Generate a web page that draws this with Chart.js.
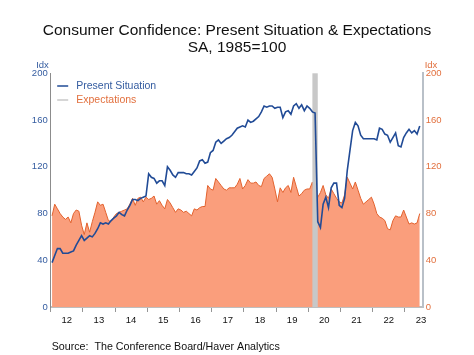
<!DOCTYPE html>
<html><head><meta charset="utf-8">
<script src="https://cdn.jsdelivr.net/npm/chart.js@4.4.0/dist/chart.umd.min.js"></script>
<style>html,body{margin:0;padding:0;background:#fff}canvas{display:block}</style>
</head><body>
<canvas id="c" width="474" height="355"></canvas>
<script>
const titleLines = ["Consumer Confidence: Present Situation & Expectations", "SA, 1985=100"];
const sourceText = "Source:  The Conference Board/Haver Analytics";
const axisUnit = "Idx";
const yearLabels = ["12","13","14","15","16","17","18","19","20","21","22","23"];
const yTicks = [0, 40, 80, 120, 160, 200];
const firstMonth = "2012-01";
const seriesNames = ["Present Situation", "Expectations"];
const recession = ["2020-02", "2020-04"];

const presentSituation = [
  38, 44, 50, 50, 46, 46, 46, 47, 48, 53, 57, 61,
  57, 59, 61, 60, 63, 67, 72, 71, 72, 71, 74, 76,
  78, 81, 79, 78, 83, 87, 92, 92, 91, 93, 94, 95,
  114, 111, 110, 106, 108, 108, 104, 120, 117, 113, 111, 115,
  115, 115, 114, 114, 113, 116, 119, 125, 126, 123, 124, 132,
  134, 141, 143, 140, 142, 144, 145, 147, 150, 153, 154, 155,
  154, 160, 158, 159, 161, 163, 167, 172, 171, 172, 172, 170,
  171, 171, 162, 167, 168, 165, 172, 174, 170, 173, 168, 172,
  170, 167, 166, 73, 68, 88, 94, 85, 102, 106, 106, 87,
  85, 93, 117, 134, 151, 158, 155, 147, 144, 144, 144, 144,
  144, 143, 153, 152, 148, 147, 141, 145, 149, 138, 137, 145,
  149, 152, 149, 151, 148, 155
];
const expectations = [
  78, 88, 84, 80, 77, 75, 77, 72, 80, 83, 82, 70,
  62, 72, 64, 73, 81, 90, 87, 88, 81, 74, 73, 77,
  80, 81, 82, 83, 84, 88, 93, 87, 93, 94, 90, 94,
  92, 93, 95, 88, 91, 87, 84, 92, 89, 85, 81, 84,
  83, 81, 82, 80, 78, 84, 83, 85, 86, 86, 104, 101,
  100, 110, 107, 104, 101, 100, 102, 102, 102, 105, 110, 101,
  104, 109, 106, 106, 107, 104, 103, 110, 112, 114, 111, 101,
  90, 102, 98, 102, 104, 98, 111, 103, 95, 97, 100, 101,
  101, 107, 88, 94, 98, 104, 96, 93, 101, 97, 93, 90,
  89, 96, 111, 106, 101, 107, 100, 93, 88, 90, 92, 94,
  88, 80, 77, 76, 74, 67, 66, 74, 78, 77, 77, 83,
  77, 71, 72, 71, 72, 80
];

function monthIndex(s) {
  const [y, m] = s.split("-").map(Number);
  const [y0, m0] = firstMonth.split("-").map(Number);
  return (y - y0) * 12 + (m - m0);
}
const toPoints = arr => arr.map((v, i) => ({ x: i + 0.5, y: v }));

const FONT = "'Liberation Sans', Arial, Helvetica, sans-serif";
const BLUE = "rgb(33,75,150)";
const BLUE_TXT = "rgb(52,92,160)";
const ORANGE_LINE = "rgb(226,98,46)";
const ORANGE_FILL = "rgb(250,158,124)";
const ORANGE_TXT = "rgb(226,112,62)";

const decor = {
  id: "decor",
  afterDatasetDraw(chart, args) {
    if (args.index !== 1) return;
    const x = chart.scales.x, a = chart.chartArea, ctx = chart.ctx;
    const x0 = x.getPixelForValue(monthIndex(recession[0]) + 0.5);
    const x1 = x.getPixelForValue(monthIndex(recession[1]) + 0.5);
    ctx.save();
    ctx.fillStyle = "rgb(200,200,200)";
    ctx.fillRect(x0, a.top, x1 - x0, a.bottom - a.top);
    ctx.restore();
  },
  afterDraw(chart) {
    const ctx = chart.ctx, a = chart.chartArea;
    ctx.save();
    ctx.textBaseline = "middle";
    ctx.fillStyle = "#111";
    ctx.textAlign = "center";
    ctx.font = "15.5px " + FONT;
    ctx.fillText(titleLines[0], 237, 31);
    ctx.fillText(titleLines[1], 237, 48);
    ctx.font = "9.5px " + FONT;
    ctx.fillStyle = BLUE_TXT;
    ctx.fillText(axisUnit, 42.5, 65);
    ctx.fillStyle = ORANGE_TXT;
    ctx.fillText(axisUnit, 431, 65);
    // legend
    ctx.lineWidth = 1.5;
    ctx.strokeStyle = BLUE;
    ctx.beginPath(); ctx.moveTo(a.left + 6.5, 86); ctx.lineTo(a.left + 17.5, 86); ctx.stroke();
    ctx.strokeStyle = "rgb(200,200,200)";
    ctx.beginPath(); ctx.moveTo(a.left + 6.5, 100); ctx.lineTo(a.left + 17.5, 100); ctx.stroke();
    ctx.textAlign = "left";
    ctx.font = "10.5px " + FONT;
    ctx.fillStyle = BLUE_TXT;
    ctx.fillText(seriesNames[0], a.left + 25.5, 86);
    ctx.fillStyle = ORANGE_TXT;
    ctx.fillText(seriesNames[1], a.left + 25.5, 100);
    // source
    ctx.fillStyle = "#111";
    ctx.font = "10.7px " + FONT;
    ctx.fillText(sourceText, 51.7, 347.5);
    ctx.restore();
  }
};

new Chart(document.getElementById("c"), {
  type: "line",
  data: {
    datasets: [
      { label: seriesNames[0], data: toPoints(presentSituation), borderColor: BLUE, borderWidth: 1.6,
        pointRadius: 0, fill: false, order: 0, yAxisID: "y" },
      { label: seriesNames[1], data: toPoints(expectations), borderColor: ORANGE_LINE, borderWidth: 1,
        backgroundColor: ORANGE_FILL, pointRadius: 0, fill: "origin", order: 1, yAxisID: "y" }
    ]
  },
  options: {
    responsive: false,
    animation: false,
    devicePixelRatio: 1,
    layout: { padding: { top: 73.3, bottom: 24, left: 0, right: 0 } },
    plugins: { legend: { display: false }, title: { display: false }, tooltip: { enabled: false } },
    scales: {
      x: {
        type: "linear", min: 0, max: presentSituation.length + 0.6,
        afterBuildTicks(s) { s.ticks = yearLabels.map((_, i) => ({ value: i * 12 })); },
        afterFit(s) { s.height = 24; },
        ticks: { callback: (v, i) => yearLabels[i], labelOffset: 16, padding: 3, maxRotation: 0, autoSkip: false,
          color: "#111", font: { family: FONT, size: 9.5 } },
        grid: { drawOnChartArea: false, drawTicks: true, tickLength: 5, color: "rgb(150,150,150)", lineWidth: 1 },
        border: { display: true, color: "rgb(190,190,190)", width: 2 }
      },
      y: {
        position: "left", min: 0, max: 200,
        afterBuildTicks(s) { s.ticks = yTicks.map(v => ({ value: v })); },
        afterFit(s) { s.width = 50.7; },
        ticks: { padding: 3, color: BLUE_TXT, font: { family: FONT, size: 9.5 } },
        grid: { display: false, drawTicks: false, tickLength: 0 },
        border: { display: true, color: "rgb(140,140,140)", width: 1 }
      },
      y2: {
        position: "right", min: 0, max: 200,
        afterBuildTicks(s) { s.ticks = yTicks.map(v => ({ value: v })); },
        afterFit(s) { s.width = 51.3; },
        ticks: { padding: 3, color: ORANGE_TXT, font: { family: FONT, size: 9.5 } },
        grid: { display: false, drawTicks: false, tickLength: 0 },
        border: { display: true, color: "rgb(185,192,200)", width: 2 }
      }
    }
  },
  plugins: [decor]
});
</script>
</body></html>
